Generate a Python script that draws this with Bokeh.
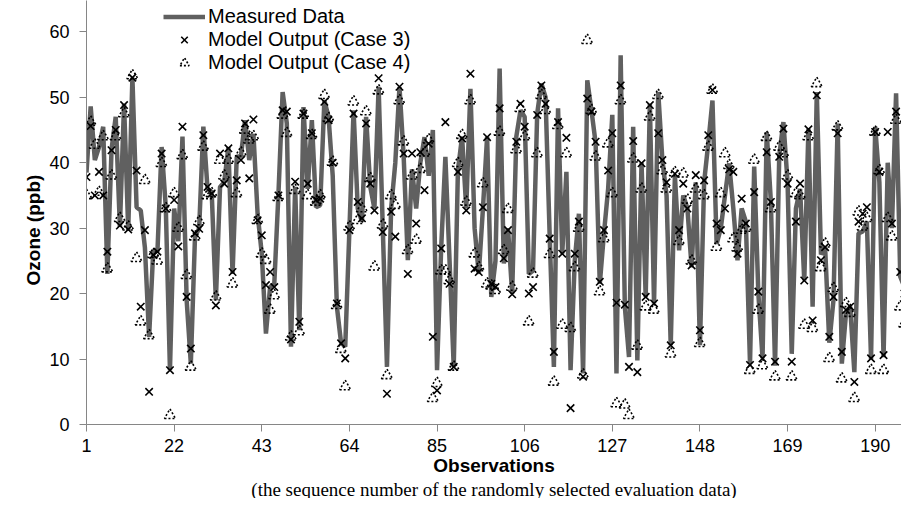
from bokeh.plotting import figure
from bokeh.models import Range1d, FixedTicker, Legend, LegendItem, Title, ColumnDataSource
from bokeh.embed import file_html
from bokeh.resources import INLINE

observation = list(range(1, 199))

measured = [
    38.5, 48.6, 40.4, 42.4, 45.5, 23.0, 42.0, 47.0, 30.2, 49.0,
    29.7, 53.0, 33.2, 32.7, 27.0, 13.4, 26.6, 26.4, 42.4, 33.2,
    8.3, 33.0, 28.0, 44.0, 19.0, 9.3, 28.7, 30.0, 45.5, 36.0,
    35.5, 19.0, 36.3, 37.0, 42.4, 23.0, 40.9, 41.0, 46.5, 40.4,
    44.4, 32.2, 26.1, 13.9, 21.0, 21.5, 35.3, 50.8, 46.0, 11.9,
    36.3, 14.4, 48.5, 36.0, 46.5, 33.2, 33.5, 49.5, 47.0, 38.0,
    18.0, 12.5, 11.9, 29.7, 48.0, 33.0, 31.0, 47.0, 36.3, 33.0,
    51.6, 30.0, 8.8, 33.0, 40.0, 51.6, 41.0, 25.1, 39.0, 33.0,
    40.0, 43.9, 38.0, 45.0, 8.3, 27.1, 40.9, 25.0, 8.8, 38.8,
    44.0, 33.0, 51.3, 30.0, 23.0, 33.0, 44.0, 19.5, 25.0, 54.4,
    24.6, 30.0, 20.0, 44.0, 48.0, 47.0, 23.0, 23.5, 47.5, 52.1,
    50.0, 28.7, 8.8, 48.3, 26.1, 38.6, 8.3, 25.0, 32.2, 7.8,
    52.6, 48.0, 43.0, 21.5, 29.2, 36.0, 47.3, 7.8, 56.4, 18.0,
    10.3, 45.5, 9.8, 40.0, 19.5, 49.0, 18.5, 50.8, 40.4, 35.0,
    12.1, 38.0, 26.6, 35.0, 33.0, 24.0, 37.0, 12.1, 37.0, 43.0,
    49.5, 27.6, 30.0, 35.0, 39.9, 33.0, 25.1, 33.0, 31.0, 9.3,
    39.4, 20.0, 10.1, 44.7, 34.0, 9.0, 41.0, 46.2, 37.0, 10.8,
    33.0, 36.0, 22.0, 45.2, 18.0, 50.8, 26.0, 27.0, 12.5, 19.0,
    46.0, 9.3, 17.0, 18.0, 8.0, 29.2, 29.5, 31.0, 10.0, 45.5,
    37.0, 10.3, 40.0, 30.0, 50.6, 22.6, 21.0, 44.0,
]

case3 = [
    37.8, 45.6, 35.0, 38.6, 35.0, 26.4, 41.9, 45.0, 30.4, 48.8,
    29.8, 53.0, 38.8, 18.0, 29.7, 5.0, 25.9, 26.4, 41.4, 33.0,
    8.3, 34.3, 27.2, 45.5, 19.5, 11.6, 29.2, 29.9, 44.2, 36.3,
    35.3, 18.2, 41.4, 36.8, 42.2, 23.3, 37.3, 40.4, 46.0, 37.6,
    46.6, 31.2, 28.9, 21.3, 23.3, 21.0, 35.0, 48.0, 47.8, 13.0,
    37.1, 15.7, 47.5, 36.8, 44.5, 34.3, 34.5, 49.3, 46.5, 40.0,
    18.5, 12.4, 10.1, 29.7, 47.5, 34.0, 31.5, 46.0, 36.8, 32.7,
    52.9, 29.4, 4.7, 32.5, 28.7, 51.6, 41.4, 23.0, 41.4, 30.7,
    41.6, 35.8, 42.9, 13.4, 5.2, 26.9, 46.2, 21.5, 8.8, 38.6,
    43.7, 32.7, 53.6, 23.8, 23.3, 33.2, 43.9, 21.5, 21.0, 48.3,
    25.4, 29.7, 19.9, 43.2, 49.0, 45.5, 20.0, 21.0, 47.3, 51.8,
    49.0, 28.4, 11.1, 46.2, 26.1, 43.8, 2.5, 26.1, 31.0, 7.3,
    49.8, 47.8, 43.2, 21.8, 29.7, 38.8, 44.5, 18.6, 51.8, 18.3,
    8.8, 43.3, 8.0, 39.9, 19.5, 48.8, 18.5, 44.5, 40.4, 37.0,
    12.1, 38.3, 29.7, 36.8, 33.0, 24.3, 38.1, 14.4, 37.3, 44.2,
    51.1, 30.7, 29.7, 33.0, 39.0, 38.6, 26.1, 34.5, 30.7, 9.1,
    35.5, 20.3, 10.1, 41.6, 34.0, 9.6, 40.9, 45.2, 36.8, 9.6,
    31.0, 36.8, 22.0, 45.1, 15.9, 50.3, 25.1, 27.1, 13.4, 19.5,
    44.5, 11.1, 17.5, 18.0, 6.5, 31.0, 32.2, 33.2, 10.1, 44.7,
    38.6, 10.6, 44.7, 30.7, 47.8, 23.3, 20.0, 39.4,
]

case4 = [
    35.0, 46.2, 42.7, 35.5, 44.0, 23.8, 38.0, 44.0, 31.5, 47.5,
    30.2, 53.3, 25.4, 15.7, 37.3, 13.6, 26.0, 25.0, 39.9, 33.0,
    1.4, 35.3, 30.0, 41.1, 22.8, 8.8, 28.7, 31.0, 42.4, 35.0,
    35.3, 19.5, 40.4, 38.0, 40.4, 21.5, 35.3, 41.5, 45.0, 43.5,
    44.0, 31.2, 26.1, 25.1, 17.5, 19.7, 34.7, 47.3, 44.5, 13.4,
    35.8, 14.2, 47.3, 35.0, 44.2, 34.0, 35.0, 50.3, 46.8, 40.1,
    18.2, 11.5, 5.8, 30.2, 49.3, 31.2, 33.0, 47.8, 37.6, 24.1,
    51.0, 30.5, 7.5, 35.0, 33.5, 49.5, 43.2, 26.6, 38.0, 28.2,
    39.0, 41.5, 43.5, 4.0, 6.3, 23.5, 23.5, 22.0, 8.8, 39.9,
    44.2, 34.0, 49.5, 26.1, 24.0, 36.8, 21.5, 21.2, 20.5, 44.7,
    26.6, 32.9, 21.0, 42.0, 48.3, 44.0, 15.7, 23.0, 41.4, 50.3,
    48.0, 26.0, 6.5, 45.7, 15.2, 41.4, 14.7, 24.0, 30.0, 7.6,
    58.7, 48.0, 40.9, 20.3, 28.4, 42.9, 35.3, 3.2, 49.5, 3.0,
    1.4, 40.6, 12.0, 36.0, 18.0, 47.0, 17.5, 50.3, 38.8, 36.0,
    10.8, 38.5, 28.0, 38.3, 34.3, 25.0, 36.0, 12.4, 35.0, 42.4,
    51.1, 27.1, 35.3, 41.4, 39.6, 28.4, 27.0, 29.7, 30.0, 8.3,
    40.4, 17.5, 9.0, 43.9, 33.0, 7.3, 42.4, 41.4, 38.0, 7.3,
    35.3, 35.0, 15.2, 44.0, 14.7, 52.1, 24.0, 27.6, 10.1, 20.8,
    45.5, 7.0, 18.5, 17.0, 4.0, 32.5, 30.2, 31.5, 8.3, 44.7,
    38.8, 8.3, 31.5, 28.7, 46.5, 18.0, 15.4, 41.9,
]

x_tick_values = [1, 22, 43, 64, 85, 106, 127, 148, 169, 190]
y_tick_values = [0, 10, 20, 30, 40, 50, 60]
series_names = ["Measured Data", "Model Output (Case 3)", "Model Output (Case 4)"]
y_title = "Ozone (ppb)"
x_title = "Observations"
x_subtitle = "(the sequence number of the randomly selected evaluation data)"

src = ColumnDataSource(dict(obs=observation, measured=measured, case3=case3, case4=case4))

p = figure(width=901, height=498, output_backend="svg", toolbar_location=None,
           x_range=Range1d(1, 196.3), y_range=Range1d(0, 64.78),
           min_border_left=86, min_border_right=0, min_border_top=0, min_border_bottom=74,
           background_fill_color="white", border_fill_color="white")
p.outline_line_color = None
p.grid.visible = False

r_line = p.line("obs", "measured", source=src, line_color="#606060", line_width=4.5)
r_c3 = p.scatter("obs", "case3", source=src, marker="x", size=10.5,
                 line_color="black", line_width=1.6)
r_c4 = p.scatter("obs", "case4", source=src, marker="triangle", size=11,
                 fill_color=None, line_color="black", line_width=1.6, line_dash="2 2")

axis_gray = "#868686"
for ax in (p.xaxis[0], p.yaxis[0]):
    ax.axis_line_color = axis_gray
    ax.major_tick_line_color = axis_gray
    ax.major_tick_in = 0
    ax.major_tick_out = 7
    ax.minor_tick_line_color = None
    ax.major_label_text_font = "Liberation Sans"
    ax.major_label_text_font_size = "18px"
    ax.major_label_text_color = "black"
    ax.axis_label_text_font = "Liberation Sans"
    ax.axis_label_text_font_style = "bold"
    ax.axis_label_text_font_size = "19px"
    ax.axis_label_text_color = "black"

p.xaxis[0].ticker = FixedTicker(ticks=x_tick_values)
p.xaxis[0].major_label_standoff = 7
p.xaxis[0].axis_label = x_title
p.xaxis[0].axis_label_standoff = 0

p.yaxis[0].ticker = FixedTicker(ticks=y_tick_values)
p.yaxis[0].major_label_standoff = 10

ytitle = Title(text=y_title, align="left", offset=139, text_font="Liberation Sans",
               text_font_style="bold", text_font_size="19px", text_color="black",
               standoff=5)
p.add_layout(ytitle, "left")

sub = Title(text=x_subtitle, align="center", text_font="Liberation Serif",
            text_font_style="normal", text_font_size="19px", text_color="black",
            standoff=-4, offset=0)
p.add_layout(sub, "below")

legend = Legend(items=[LegendItem(label=series_names[0], renderers=[r_line]),
                       LegendItem(label=series_names[1], renderers=[r_c3]),
                       LegendItem(label=series_names[2], renderers=[r_c4])],
                location=(77, 350), orientation="vertical", padding=0, spacing=0, margin=0,
                glyph_width=42, glyph_height=23, label_height=23, label_standoff=3,
                label_text_font="Liberation Sans", label_text_font_size="20px",
                label_text_color="black", border_line_color=None, background_fill_alpha=0)
p.add_layout(legend)

open("out.html", "w").write(file_html(p, INLINE))
